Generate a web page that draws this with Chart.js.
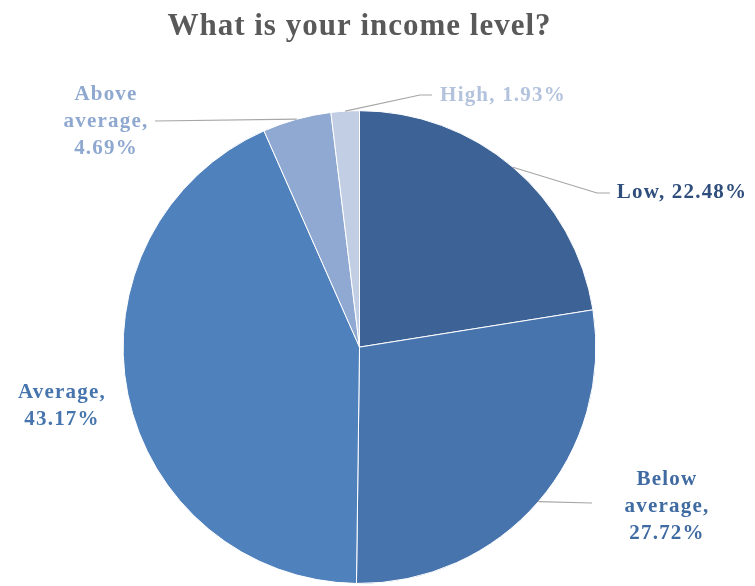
<!DOCTYPE html>
<html>
<head>
<meta charset="utf-8">
<script src="https://cdn.jsdelivr.net/npm/chart.js@4"></script>
<style>
  html, body { margin: 0; padding: 0; background: #fff; }
  #wrap { width: 755px; height: 586px; }
</style>
</head>
<body>
<div id="wrap"><canvas id="income-chart" width="755" height="586"></canvas></div>
<script>
const categories = ['Low', 'Below average', 'Average', 'Above average', 'High'];
const shares = [22.48, 27.72, 43.17, 4.69, 1.93];
const sliceColors = ['#3d6296', '#4874ae', '#4f81bd', '#8fa9d3', '#c2cee3'];
const labelColors = ['#2f4e7c', '#3f6aa2', '#4675ad', '#8ea8cf', '#b3c3dd'];

// label lines and where each label block sits
const labelLines = [
    ['Low, 22.48%'],
    ['Below', 'average,', '27.72%'],
    ['Average,', '43.17%'],
    ['Above', 'average,', '4.69%'],
    ['High, 1.93%']
];
const labelSpots = [
    { x: 682, y: 193, leader: [[597, 193], [610, 193]] },
    { x: 667, y: 507, leader: [[592, 503]] },
    { x: 62, y: 406, leader: null },
    { x: 106, y: 122, leader: [[155, 121]] },
    { x: 503, y: 96, leader: [[420, 95], [432, 95]] }
];

const pieLabels = {
    id: 'pieLabels',
    afterDatasetsDraw(chart) {
        const ctx = chart.ctx;
        const arcs = chart.getDatasetMeta(0).data;
        ctx.save();
        arcs.forEach(function (arc, i) {
            const spot = labelSpots[i];
            const mid = (arc.startAngle + arc.endAngle) / 2;
            if (spot.leader) {
                ctx.beginPath();
                ctx.moveTo(arc.x + Math.cos(mid) * arc.outerRadius, arc.y + Math.sin(mid) * arc.outerRadius);
                spot.leader.forEach(p => ctx.lineTo(p[0], p[1]));
                ctx.strokeStyle = '#a6a6a6';
                ctx.lineWidth = 1.2;
                ctx.stroke();
            }
            const lines = labelLines[i];
            const lh = 27;
            ctx.font = 'bold 21px "Liberation Serif", "Times New Roman", serif';
            ctx.letterSpacing = '1.2px';
            ctx.fillStyle = labelColors[i];
            ctx.textAlign = 'center';
            ctx.textBaseline = 'middle';
            lines.forEach(function (t, k) {
                ctx.fillText(t, spot.x, spot.y + (k - (lines.length - 1) / 2) * lh);
            });
        });
        ctx.restore();
    }
};

// wider tracking on the title text
const titleSpacing = {
    id: 'titleSpacing',
    beforeDraw(chart) { chart.ctx.letterSpacing = '1px'; },
    afterDraw(chart) { chart.ctx.letterSpacing = '0px'; }
};

const ctx = document.getElementById('income-chart').getContext('2d');
new Chart(ctx, {
    type: 'pie',
    data: {
        labels: categories,
        datasets: [{
            data: shares,
            backgroundColor: sliceColors,
            borderColor: '#ffffff',
            borderWidth: 1
        }]
    },
    options: {
        responsive: false,
        animation: false,
        layout: {
            padding: { top: 0, left: 122, right: 158, bottom: 2 }
        },
        plugins: {
            legend: { display: false },
            tooltip: { enabled: false },
            title: {
                display: true,
                text: 'What is your income level?',
                color: '#595959',
                font: { family: '"Liberation Serif", "Times New Roman", serif', size: 31, weight: 'bold' },
                padding: { top: 8, bottom: 65 }
            }
        }
    },
    plugins: [titleSpacing, pieLabels]
});
</script>
</body>
</html>
